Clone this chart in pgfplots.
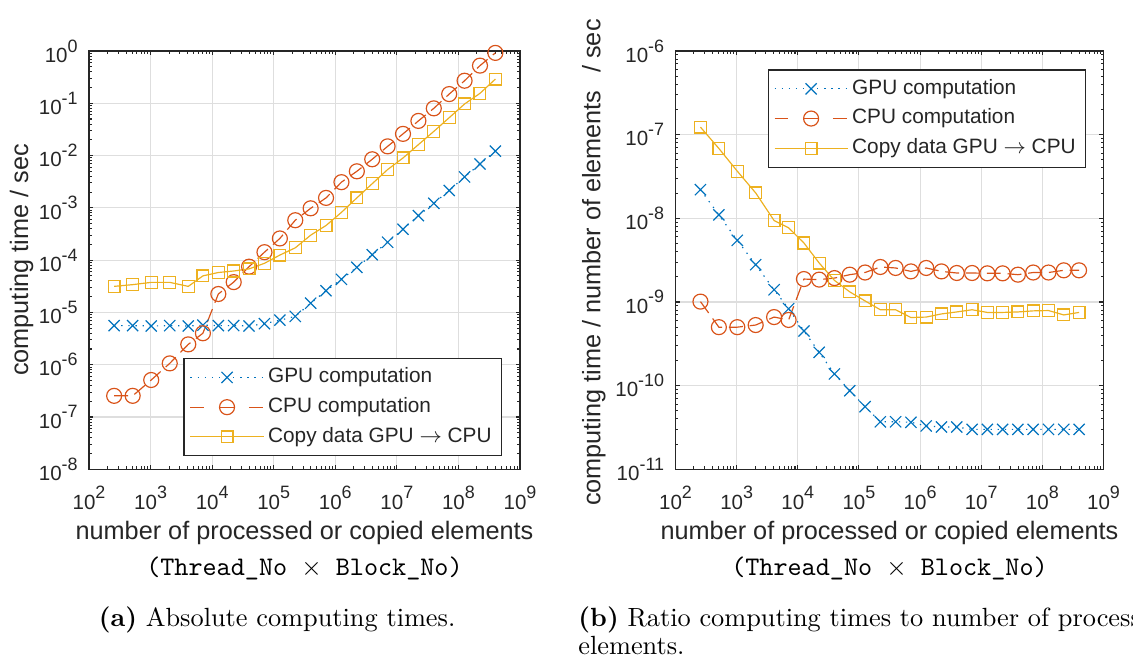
\documentclass[border=0pt]{standalone}
\usepackage{fontspec}
\setsansfont{Liberation Sans}
\usepackage{pgfplots}
\usepackage{pgfplotstable}
\pgfplotsset{compat=1.18}

\definecolor{mblue}{HTML}{0072BD}
\definecolor{morange}{HTML}{D95319}
\definecolor{myellow}{HTML}{EDB120}
\definecolor{axgray}{HTML}{262626}

% superscript exponent of a tick label, MATLAB style
\newcommand{\sups}[1]{\raisebox{3.9pt}{\fontsize{6.8}{6.8}\selectfont #1}}
\newcommand{\tlab}[1]{10\sups{#1}}

% minor tick lists (2..9 in every decade)
\def\xminor{}
\foreach \e in {2,...,8}{\foreach \m in {2,...,9}{%
  \xdef\xminor{\xminor\ifx\xminor\empty\else,\fi\m e\e}}}
\def\yminorA{}
\foreach \e in {-8,...,-1}{\foreach \m in {2,...,9}{%
  \xdef\yminorA{\yminorA\ifx\yminorA\empty\else,\fi\m e\e}}}
\def\yminorB{}
\foreach \e in {-11,...,-7}{\foreach \m in {2,...,9}{%
  \xdef\yminorB{\yminorB\ifx\yminorB\empty\else,\fi\m e\e}}}

% absolute computing times [s]
\pgfplotstableread{
n        gpu      cpu      copy
256      5.6e-6   2.54e-7  3.15e-5
512      5.6e-6   2.54e-7  3.4e-5
1024     5.5e-6   5.1e-7   3.76e-5
2048     5.6e-6   1.06e-6  3.76e-5
4096     5.5e-6   2.45e-6  3.15e-5
7080     5.7e-6   4.0e-6   5.0e-5
12600    5.6e-6   2.25e-5  5.8e-5
22400    5.6e-6   3.8e-5   6.2e-5
39800    5.5e-6   7.5e-5   6.8e-5
70800    6.1e-6   1.42e-4  8.7e-5
125900   7.1e-6   2.6e-4   1.25e-4
223900   8.4e-6   5.8e-4   1.72e-4
398100   1.5e-5   9.8e-4   3.0e-4
707900   2.6e-5   1.55e-3  4.6e-4
1.259e6  4.3e-5   3.1e-3   8.2e-4
2.239e6  7.3e-5   5.0e-3   1.55e-3
3.981e6  1.27e-4  8.5e-3   2.9e-3
7.079e6  2.2e-4   1.5e-2   5.4e-3
1.259e7  3.9e-4   2.6e-2   9.0e-3
2.239e7  7.1e-4   4.6e-2   1.62e-2
3.981e7  1.22e-3  8.0e-2   2.9e-2
7.079e7  2.15e-3  0.15     5.3e-2
1.259e8  3.9e-3   0.27     9.7e-2
2.239e8  6.9e-3   0.525    0.155
3.981e8  1.22e-2  0.92     0.29
}\abstimes

% computing time per element [s]
\pgfplotstableread{
n        gpu      cpu      copy
256      2.2e-8   1.01e-9  1.23e-7
512      1.1e-8   5.0e-10  6.84e-8
1024     5.45e-9  5.0e-10  3.66e-8
2048     2.79e-9  5.3e-10  2.01e-8
4096     1.40e-9  6.6e-10  9.4e-9
7080     8.3e-10  6.1e-10  7.7e-9
12600    4.5e-10  1.88e-9  5.07e-9
22400    2.5e-10  1.85e-9  2.92e-9
39800    1.38e-10 1.93e-9  1.81e-9
70800    8.7e-11  2.12e-9  1.32e-9
125900   5.6e-11  2.25e-9  1.03e-9
223900   3.7e-11  2.62e-9  8.07e-10
398100   3.7e-11  2.55e-9  8.07e-10
707900   3.65e-11 2.32e-9  6.52e-10
1.259e6  3.3e-11  2.55e-9  6.6e-10
2.239e6  3.2e-11  2.32e-9  7.2e-10
3.981e6  3.2e-11  2.22e-9  7.6e-10
7.079e6  3.0e-11  2.22e-9  8.07e-10
1.259e7  3.0e-11  2.2e-9   7.5e-10
2.239e7  3.0e-11  2.2e-9   7.5e-10
3.981e7  3.0e-11  2.12e-9  7.6e-10
7.079e7  3.0e-11  2.25e-9  7.83e-10
1.259e8  3.0e-11  2.25e-9  7.9e-10
2.239e8  3.0e-11  2.39e-9  7.0e-10
3.981e8  3.0e-11  2.39e-9  7.5e-10
}\ratiotimes

% look shared by both panels
\pgfplotsset{
  scale only axis,
  grid=major,
  major grid style={black!13, line width=0.4pt},
  axis line style={axgray, line width=0.45pt},
  tick style={axgray, line width=0.4pt},
  major tick length=1.6pt,
  minor tick length=1.1pt,
  tick align=inside,
  tick label style={font=\fontsize{7.8}{8}\selectfont\sffamily, text=axgray},
  xticklabel style={yshift=-3.0pt},
  yticklabel style={xshift=-0.8pt},
  legend cell align=left,
  legend style={
    font=\fontsize{7.9}{9}\selectfont\sffamily, text=axgray,
    draw=axgray, line width=0.45pt, fill=white,
    inner xsep=2.2pt, inner ysep=2.0pt,
    row sep=1.0pt,
    nodes={inner sep=1.5pt, text depth=1.6pt, text height=5.7pt},
  },
  legend image code/.code={
    \draw[mark repeat=2, mark phase=2, #1]
      plot coordinates {(0pt,0pt) (13.9pt,0pt) (27.8pt,0pt)};
  },
  gpu/.style={mblue, line width=0.45pt, dash pattern=on 0.5pt off 2.2pt,
    mark=x, mark size=3.0pt, mark options={solid}},
  cpu/.style={morange, line width=0.45pt, dash pattern=on 5.3pt off 2.6pt,
    mark=o, mark size=2.85pt, mark options={solid},
    legend image post style={dash pattern=on 5.3pt off 5.8pt}},
  cpy/.style={myellow, line width=0.45pt, solid,
    mark=square, mark size=2.25pt, mark options={solid}},
}

\begin{document}
\begin{tikzpicture}
\useasboundingbox (0,0) rectangle (430.54pt,250.8pt);
\clip (0,0) rectangle (430.54pt,250.8pt);

% (a) absolute times
\begin{axis}[
  at={(33.82pt,72.47pt)}, anchor=south west,
  width=163.78pt, height=158.95pt,
  xmode=log, ymode=log,
  xmin=1e2, xmax=1e9,
  xtick={1e2,1e3,1e4,1e5,1e6,1e7,1e8,1e9},
  minor xtick/.expand once=\xminor,
  xticklabels={\tlab{2},\tlab{3},\tlab{4},\tlab{5},\tlab{6},\tlab{7},\tlab{8},\tlab{9}},
  ymin=1e-8, ymax=1e0,
  ytick={1e-8,1e-7,1e-6,1e-5,1e-4,1e-3,1e-2,1e-1,1e0},
  minor ytick/.expand once=\yminorA,
  yticklabels={\tlab{-8},\tlab{-7},\tlab{-6},\tlab{-5},\tlab{-4},\tlab{-3},\tlab{-2},\tlab{-1},\tlab{0}},
  legend style={at={(0.958,0.266)}, anchor=north east},
]
\addplot[gpu] table[x=n, y=gpu] {\abstimes};
\addplot[cpu] table[x=n, y=cpu] {\abstimes};
\addplot[cpy] table[x=n, y=copy] {\abstimes};
\legend{GPU computation, CPU computation, Copy data GPU $\rightarrow$ CPU}
\end{axis}

% (b) time per element
\begin{axis}[
  at={(256.69pt,72.47pt)}, anchor=south west,
  width=162.64pt, height=158.95pt,
  xmode=log, ymode=log,
  xmin=1e2, xmax=1e9,
  xtick={1e2,1e3,1e4,1e5,1e6,1e7,1e8,1e9},
  minor xtick/.expand once=\xminor,
  xticklabels={\tlab{2},\tlab{3},\tlab{4},\tlab{5},\tlab{6},\tlab{7},\tlab{8},\tlab{9}},
  ymin=1e-11, ymax=1e-6,
  ytick={1e-11,1e-10,1e-9,1e-8,1e-7,1e-6},
  minor ytick/.expand once=\yminorB,
  yticklabels={\tlab{-11},\tlab{-10},\tlab{-9},\tlab{-8},\tlab{-7},\tlab{-6}},
  legend style={at={(0.959,0.956)}, anchor=north east},
]
\addplot[gpu] table[x=n, y=gpu] {\ratiotimes};
\addplot[cpu] table[x=n, y=cpu] {\ratiotimes};
\addplot[cpy] table[x=n, y=copy] {\ratiotimes};
\legend{GPU computation, CPU computation, Copy data GPU $\rightarrow$ CPU}
\end{axis}

% axis labels
\begin{scope}[every node/.style={inner sep=0pt, text=axgray}]
\node[rotate=90, font=\fontsize{9.6}{10}\selectfont\sffamily] at (8.2pt,152pt)
  {computing time / sec};
\node[rotate=90, font=\fontsize{9.6}{10}\selectfont\sffamily] at (225.7pt,151pt)
  {computing time / number of elements\hspace{0.7em}/ sec};
\node[anchor=base, font=\fontsize{9.6}{10}\selectfont\sffamily] at (115.7pt,45.6pt)
  {number of processed or copied elements};
\node[anchor=base, font=\fontsize{9.6}{10}\selectfont\sffamily] at (338pt,45.6pt)
  {number of processed or copied elements};
\end{scope}
\node[anchor=base, inner sep=0pt, font=\fontsize{10.2}{12}\selectfont] at (115.7pt,32.2pt)
  {\texttt{(Thread\_No~}$\times$\texttt{~Block\_No)}};
\node[anchor=base, inner sep=0pt, font=\fontsize{10.2}{12}\selectfont] at (338pt,32.2pt)
  {\texttt{(Thread\_No~}$\times$\texttt{~Block\_No)}};

% captions
\node[anchor=base, inner sep=0pt, font=\fontsize{10}{12}\selectfont] at (105.3pt,12.9pt)
  {\textbf{(a)} Absolute computing times.};
\node[anchor=base west, inner sep=0pt, font=\fontsize{10}{12}\selectfont] at (219.6pt,12.9pt)
  {\textbf{(b)} Ratio computing times to number of processed};
\node[anchor=base west, inner sep=0pt, font=\fontsize{10}{12}\selectfont] at (219.6pt,1.9pt)
  {elements.};
\end{tikzpicture}
\end{document}
